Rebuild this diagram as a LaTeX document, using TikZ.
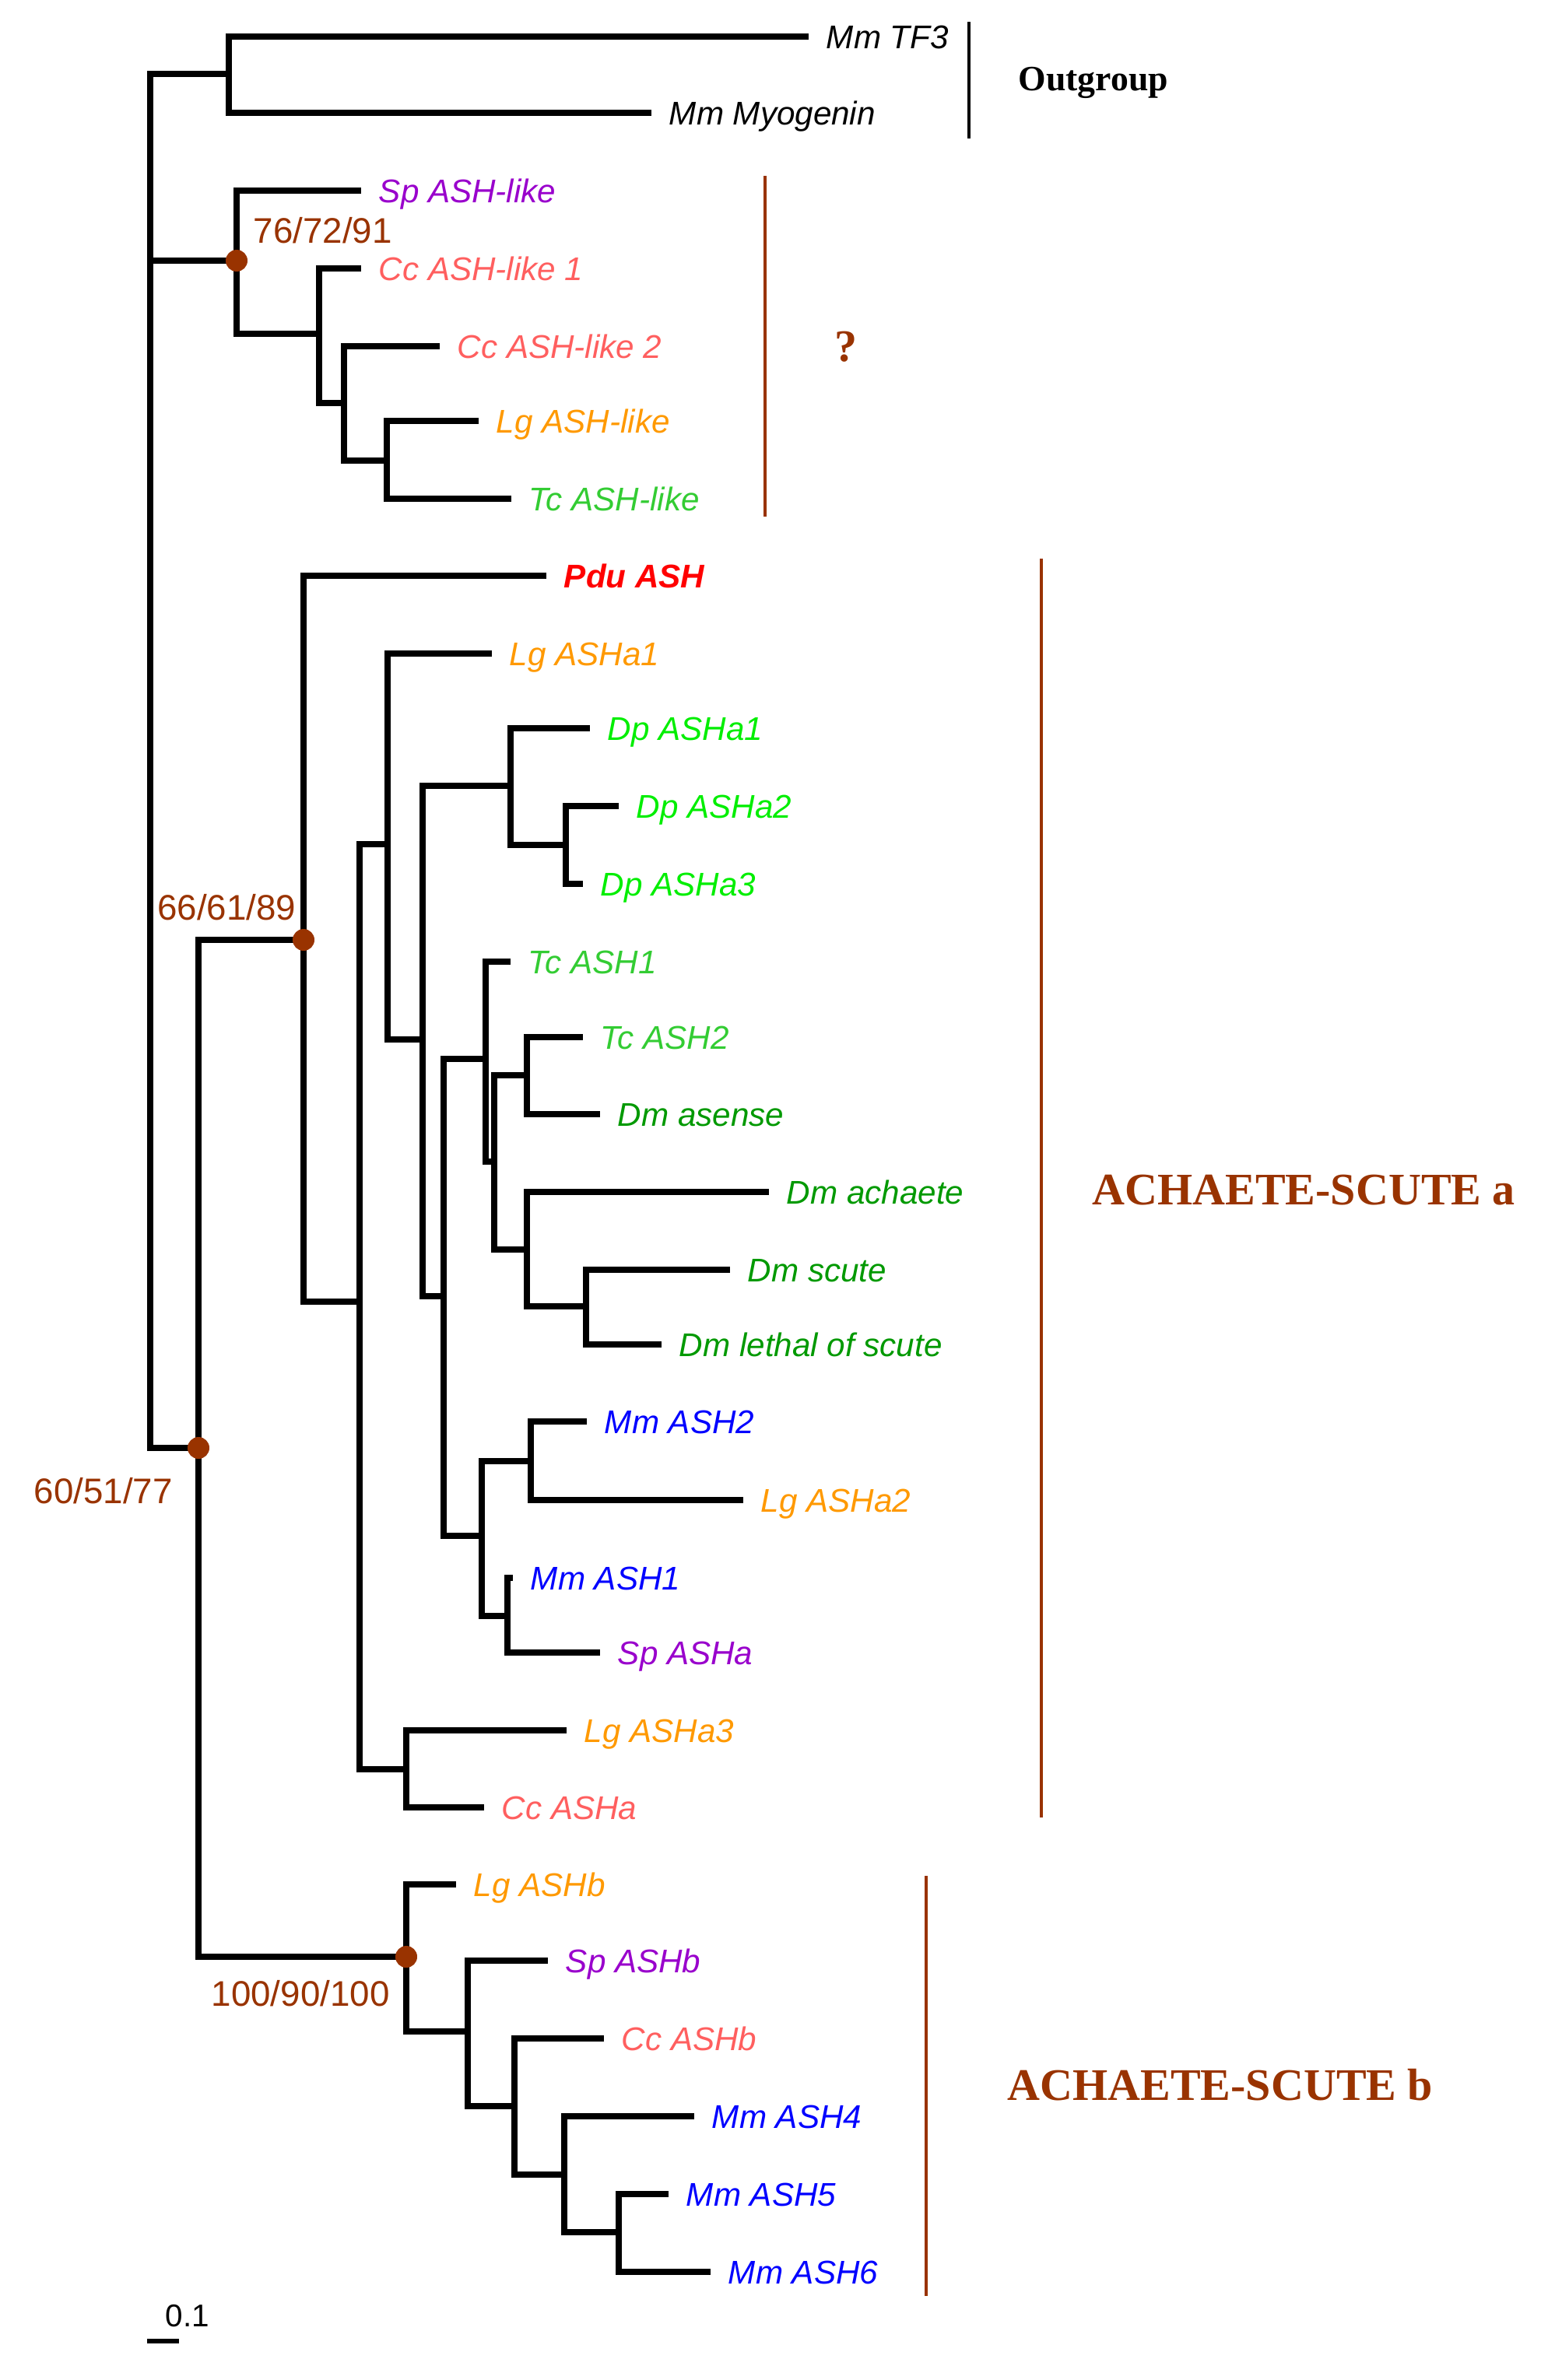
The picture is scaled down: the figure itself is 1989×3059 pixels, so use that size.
\documentclass[tikz,border=0pt]{standalone}
\usepackage{fontspec}
\setmainfont{Liberation Serif}
\setsansfont{Liberation Sans}

\definecolor{bsbrown}{RGB}{153,51,0}
\definecolor{spcol}{RGB}{153,0,204}
\definecolor{cccol}{RGB}{255,95,95}
\definecolor{lgcol}{RGB}{255,153,0}
\definecolor{tccol}{RGB}{51,204,51}
\definecolor{dpcol}{RGB}{0,238,0}
\definecolor{dmcol}{RGB}{0,153,0}
\definecolor{mmcol}{RGB}{0,0,255}
\definecolor{pducol}{RGB}{255,0,0}

\begin{document}
\begin{tikzpicture}[x=0.01cm, y=-0.01cm,
    branch/.style={line width=2.2pt, black},
    leaf/.style={anchor=west, inner xsep=6.5pt, inner ysep=0pt, outer sep=0pt,
                 text height=8.6pt, text depth=0pt,
                 font=\sffamily\itshape\fontsize{12}{14}\selectfont},
    boot/.style={inner sep=0pt, text=bsbrown,
                 font=\sffamily\fontsize{13}{15}\selectfont},
    bsdot/.style={circle, fill=bsbrown, inner sep=0pt, minimum size=0.28cm},
    clade/.style={line width=1.2pt, bsbrown},
    grp/.style={inner sep=0pt, text=bsbrown,
                font=\rmfamily\bfseries\fontsize{16.5}{19}\selectfont}]

  \useasboundingbox (0,0) rectangle (1989,3059);

  % ---- leaves: {name / branch end x / y / colour / label} ----
  \foreach \nm/\xx/\yy/\col/\lab in {
      mmTF3/1039/47/black/{Mm TF3},
      mmMyog/837/145/black/{Mm Myogenin},
      spLike/464/245/spcol/{Sp ASH-like},
      ccLikeA/464/345/cccol/{Cc ASH-like 1},
      ccLikeB/565/445/cccol/{Cc ASH-like 2},
      lgLike/615/541/lgcol/{Lg ASH-like},
      tcLike/657/641/tccol/{Tc ASH-like},
      pduASH/702/740/pducol/{\bfseries Pdu ASH},
      lgASHaA/632/840/lgcol/{Lg ASHa1},
      dpASHaA/758/936/dpcol/{Dp ASHa1},
      dpASHaB/795/1036/dpcol/{Dp ASHa2},
      dpASHaC/749/1136/dpcol/{Dp ASHa3},
      tcASHA/656/1236/tccol/{Tc ASH1},
      tcASHB/749/1333/tccol/{Tc ASH2},
      dmAse/771/1432/dmcol/{Dm asense},
      dmAch/988/1532/dmcol/{Dm achaete},
      dmSc/938/1632/dmcol/{Dm scute},
      dmLsc/850/1728/dmcol/{Dm lethal of scute},
      mmASHB/754/1827/mmcol/{Mm ASH2},
      lgASHaB/955/1928/lgcol/{Lg ASHa2},
      mmASHA/659/2028/mmcol/{Mm ASH1},
      spASHa/771/2124/spcol/{Sp ASHa},
      lgASHaC/728/2224/lgcol/{Lg ASHa3},
      ccASHa/622/2323/cccol/{Cc ASHa},
      lgASHb/586/2422/lgcol/{Lg ASHb},
      spASHb/704/2520/spcol/{Sp ASHb},
      ccASHb/776/2620/cccol/{Cc ASHb},
      mmASHD/892/2720/mmcol/{Mm ASH4},
      mmASHE/859/2820/mmcol/{Mm ASH5},
      mmASHF/913/2920/mmcol/{Mm ASH6}} {
    \node[leaf, text=\col] (\nm) at (\xx,\yy) {\lab};
  }

  % ---- internal nodes: {name / x of vertical / y of parent join} ----
  \foreach \nm/\xx/\yy in {
      root/193/335, outg/294/95,
      like/304/335, likeA/410/429, likeB/442/518, likeC/497/592,
      AS/255/1861, ASa/390/1208, ASb/522/2515,
      aA/462/1673, aB/498/1085, aC/522/2274, aD/543/1336,
      dp/656/1010, dpB/727/1086, aE/570/1666, aF/624/1361,
      aG/635/1493, aH/677/1382, aI/677/1606, aJ/753/1679,
      aK/619/1974, aL/682/1878, aM/652/2077,
      bA/601/2611, bB/661/2707, bC/725/2795, bD/795/2869} {
    \coordinate (\nm) at (\xx,\yy);
  }

  % ---- branches ----
  \foreach \p/\c in {
      root/outg, root/like, root/AS,
      outg/mmTF3, outg/mmMyog,
      like/spLike, like/likeA, likeA/ccLikeA, likeA/likeB,
      likeB/ccLikeB, likeB/likeC, likeC/lgLike, likeC/tcLike,
      AS/ASa, AS/ASb,
      ASa/pduASH, ASa/aA, aA/aB, aA/aC,
      aB/lgASHaA, aB/aD, aD/dp, aD/aE,
      dp/dpASHaA, dp/dpB, dpB/dpASHaB, dpB/dpASHaC,
      aE/aF, aE/aK, aF/tcASHA, aF/aG, aG/aH, aG/aI,
      aH/tcASHB, aH/dmAse, aI/dmAch, aI/aJ, aJ/dmSc, aJ/dmLsc,
      aK/aL, aK/aM, aL/mmASHB, aL/lgASHaB, aM/mmASHA, aM/spASHa,
      aC/lgASHaC, aC/ccASHa,
      ASb/lgASHb, ASb/bA, bA/spASHb, bA/bB, bB/ccASHb, bB/bC,
      bC/mmASHD, bC/bD, bD/mmASHE, bD/mmASHF} {
    \draw[branch] (\p) |- (\c);
  }

  % ---- supported nodes ----
  \foreach \d in {like, ASa, AS, ASb} {
    \node[bsdot] (dot\d) at (\d) {};
  }
  \node[boot, anchor=base west] (bsLike) at (325,312) {76/72/91};
  \node[boot, anchor=base east] (bsASa) at (381,1182) {66/61/89};
  \node[boot, anchor=base west] (bsAS) at (43,1932) {60/51/77};
  \node[boot, anchor=base west] (bsASb) at (271,2578) {100/90/100};

  % ---- clade brackets and names ----
  \draw[line width=1.2pt] (1245,28) -- (1245,178);
  \draw[clade] (983,226) -- (983,664);
  \draw[clade] (1338,718) -- (1338,2336);
  \draw[clade] (1190,2411) -- (1190,2951);

  \node[inner sep=0pt, anchor=base west,
        font=\rmfamily\bfseries\fontsize{13}{15}\selectfont] (outLab) at (1308,116) {Outgroup};
  \node[grp, anchor=base] (qLab) at (1087,464) {?};
  \node[grp, anchor=west] (asaLab) at (1403,1530) {ACHAETE-SCUTE a};
  \node[grp, anchor=west] (asbLab) at (1294,2680) {ACHAETE-SCUTE b};

  % ---- scale bar ----
  \draw[line width=1.5pt] (189,3009) -- (230,3009);
  \node[inner sep=0pt, anchor=base west,
        font=\sffamily\fontsize{11.5}{13}\selectfont] (scaleLab) at (212,2990) {0.1};

\end{tikzpicture}
\end{document}
